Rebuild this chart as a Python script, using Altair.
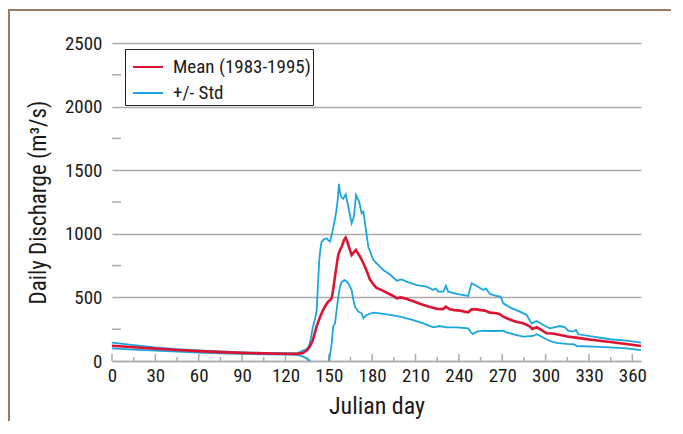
import altair as alt
import pandas as pd

# ---------------- data ----------------
mean_day = [0, 15, 30, 45, 60, 75, 90, 105, 120, 128, 132, 135, 137, 139, 141.5, 144, 146, 148,
            149.5, 151, 152, 153, 154.3, 155.5, 156.5, 158, 159, 160.5, 161.7, 162.5, 163.5, 165,
            165.8, 167, 168.8, 170, 171.6, 173, 175, 176.5, 178.5, 181, 183, 187, 190, 194, 197,
            200, 203, 208, 213, 217.7, 222, 225, 229, 231, 233.7, 237, 241, 244, 246.5, 248.8,
            252, 255, 258, 261.5, 266, 268, 270.7, 274, 277.6, 281, 284.5, 288.7, 290.8, 293.8,
            297, 300.7, 305, 310, 315, 321, 327, 333, 340, 345, 350, 356, 361, 366]
mean_val = [120, 108, 97, 86, 78, 70, 64, 60, 57, 56, 62, 86, 115, 165, 270, 348, 400, 440,
            466, 480, 493, 560, 663, 760, 833, 880, 900, 950, 970, 950, 912, 860,
            833, 850, 873, 850, 820, 790, 741, 700, 640, 600, 575, 555, 537, 515, 493,
            500, 492, 472, 450, 432, 418, 410, 408, 427, 406, 400, 396, 388, 383, 406,
            406, 400, 396, 380, 375, 370, 348, 332, 317, 305, 296, 275, 252, 265,
            244, 218, 216, 205, 192, 184, 174, 165, 155, 149, 142, 134, 126, 118]

upper_day = [0, 15, 30, 45, 60, 75, 90, 105, 120, 128, 130, 132, 134, 136, 137.5, 139, 140.5,
             141.6, 142.5, 143.4, 144.2, 145, 146.5, 148.5, 149.5, 150.8, 152, 153, 154, 155,
             156, 157, 157.7, 158.4, 160, 161.7, 163.5, 165.8, 167.4, 168.8, 171, 172.7, 173.9,
             175.7, 177.3, 180.8, 183.1, 187.7, 192.3, 197, 200.4, 203.7, 210.8, 217.7, 222.3,
             223.8, 225.8, 229.3, 231, 232.6, 238.4, 246.5, 247.5, 248.8, 252.3, 256.9, 258.7,
             261.5, 266.1, 268.8, 270.7, 275.3, 282.2, 286.9, 290.3, 293.8, 298.4, 303, 309.9,
             313.4, 315.6, 319.1, 321, 322.6, 333, 344.5, 356, 366]
upper_val = [144, 125, 107, 93, 83, 75, 68, 64, 61, 60, 70, 82, 88, 110, 170, 270, 330,
             400, 600, 794, 880, 938, 955, 965, 950, 938, 990, 1043, 1100, 1163,
             1250, 1392, 1330, 1292, 1275, 1310, 1213, 1082, 1135, 1305, 1252, 1161, 1174,
             1030, 899, 794, 768, 715, 680, 631, 642, 624, 597, 584, 558,
             571, 545, 545, 590, 545, 527, 511, 560, 611, 590, 558, 571,
             527, 511, 506, 453, 422, 388, 362, 296, 314, 283, 257, 275,
             265, 238, 231, 244, 210, 191, 171, 160, 144]

lower_day = [0, 15, 30, 45, 60, 75, 90, 105, 120, 128, 131, 134.7, 137, 139, 142, 147, 150,
             151, 152, 153, 154.3, 155.4, 156.5, 157.7, 159, 160.7, 162, 163.5, 165.8, 167,
             168.1, 170.4, 172.7, 173.9, 176.2, 180.8, 185.4, 192.3, 199.2, 208.5, 215.4,
             222.3, 226.6, 231.5, 238.4, 246.5, 248, 249.5, 252.3, 256.9, 263.8, 270.7, 273,
             280, 284.5, 291.4, 293.8, 297.3, 303, 307.6, 314.5, 320, 321.5, 333, 344.5, 356, 366]
lower_val = [100, 90, 81, 73, 66, 61, 56, 53, 50, 48, 40, 21, 0, -80, -250, -250, -20,
             60, 139, 270, 296, 401, 500, 584, 620, 637, 630, 611, 558, 480,
             427, 388, 375, 335, 362, 380, 375, 362, 348, 322, 296,
             265, 275, 265, 265, 257, 230, 212, 231, 238, 236, 238, 225,
             204, 191, 197, 210, 191, 157, 142, 134, 130, 118, 113, 107, 100, 86]

x_ticks_major = [0, 30, 60, 90, 120, 150, 180, 210, 240, 270, 300, 330, 360]
x_ticks_minor = [15, 45, 75, 105, 135, 165, 195, 225, 255, 285, 315, 345]
y_ticks_major = [0, 500, 1000, 1500, 2000, 2500]
y_ticks_minor = [250, 750, 1250, 1750, 2250]

SERIES_MEAN = "Mean (1983-1995)"
SERIES_STD = "+/- Std"
RED = "#dc1431"
BLUE = "#1ba6e0"
GRID = "#ababab"
FONT = "Liberation Sans Narrow, Roboto Condensed, DejaVu Sans Condensed, sans-serif"
W, H = 529, 318
PAD = {"left": 104, "top": 35, "right": 30, "bottom": 60}

df = pd.concat([
    pd.DataFrame({"day": mean_day, "q": mean_val, "line": "mean", "series": SERIES_MEAN}),
    pd.DataFrame({"day": upper_day, "q": upper_val, "line": "upper", "series": SERIES_STD}),
    pd.DataFrame({"day": lower_day, "q": lower_val, "line": "lower", "series": SERIES_STD}),
], ignore_index=True)

xscale = alt.Scale(domain=[0, 366], nice=False, zero=False)
yscale = alt.Scale(domain=[0, 2500], nice=False)

x_enc = alt.X("day:Q", scale=xscale, title="Julian day",
              axis=alt.Axis(values=x_ticks_major, format="d", ticks=False, grid=False,
                            domain=True, domainColor=GRID, domainWidth=1.5, labelPadding=5,
                            labelFontSize=19, titleFontSize=24, titlePadding=9,
                            labelFlush=False))
y_enc = alt.Y("q:Q", scale=yscale, title="Daily Discharge (m³/s)",
              axis=alt.Axis(values=y_ticks_major, format="d", ticks=False, grid=True,
                            domain=False, gridColor=GRID, gridWidth=1.5, labelPadding=10,
                            labelFontSize=19, titleFontSize=23, titlePadding=14))

color = alt.Color("series:N",
                  scale=alt.Scale(domain=[SERIES_MEAN, SERIES_STD], range=[RED, BLUE]),
                  legend=alt.Legend(title=None, orient="none", legendX=13, legendY=6,
                                    symbolType="stroke", symbolSize=900, symbolStrokeWidth=2,
                                    symbolOffset=5, labelFontSize=19, labelOffset=9,
                                    labelFont=FONT, labelColor="#1a1a1a",
                                    padding=2, rowPadding=0, strokeColor="#222",
                                    fillColor="white"))

std_lines = alt.Chart(df).transform_filter(
    alt.datum.series == SERIES_STD
).mark_line(strokeWidth=1.8, clip=True).encode(
    x=x_enc, y=y_enc, color=color, detail="line:N", order="day:Q")

mean_line = alt.Chart(df).transform_filter(
    alt.datum.series == SERIES_MEAN
).mark_line(strokeWidth=2.6, clip=True).encode(
    x=x_enc, y=y_enc, color=color, detail="line:N", order="day:Q")

# tick marks (inside the plot, as in the reference)
xt_major = alt.Chart(pd.DataFrame({"day": x_ticks_major})).mark_rule(
    color=GRID, strokeWidth=1.5).encode(
    x=alt.X("day:Q", scale=xscale), y=alt.value(H), y2=alt.value(H - 7))
xt_minor = alt.Chart(pd.DataFrame({"day": x_ticks_minor})).mark_rule(
    color=GRID, strokeWidth=1.5).encode(
    x=alt.X("day:Q", scale=xscale), y=alt.value(H), y2=alt.value(H - 4))
yt_minor = alt.Chart(pd.DataFrame({"q": y_ticks_minor})).mark_rule(
    color=GRID, strokeWidth=1.5).encode(
    y=alt.Y("q:Q", scale=yscale), x=alt.value(0), x2=alt.value(9))

# brown frame of the figure box (only its top and left edges fall inside the page)
frame = alt.Chart(pd.DataFrame({"k": [0]})).mark_rect(
    fill="transparent", stroke="#a07868", strokeWidth=2).encode(
    x=alt.value(-PAD["left"] + 1), x2=alt.value(W + 200),
    y=alt.value(-33), y2=alt.value(H + 200))

chart = alt.layer(
    frame, xt_major, xt_minor, yt_minor, std_lines, mean_line
).properties(
    width=W, height=H,
    autosize=alt.AutoSizeParams(type="none"),
    padding=PAD,
    background="white",
).configure_view(
    strokeWidth=0
).configure_axis(
    labelFont=FONT, titleFont=FONT, labelColor="#1a1a1a", titleColor="#1a1a1a",
    titleFontWeight="normal"
)

chart.save("out.html", embed_options={"renderer": "svg", "actions": False})
